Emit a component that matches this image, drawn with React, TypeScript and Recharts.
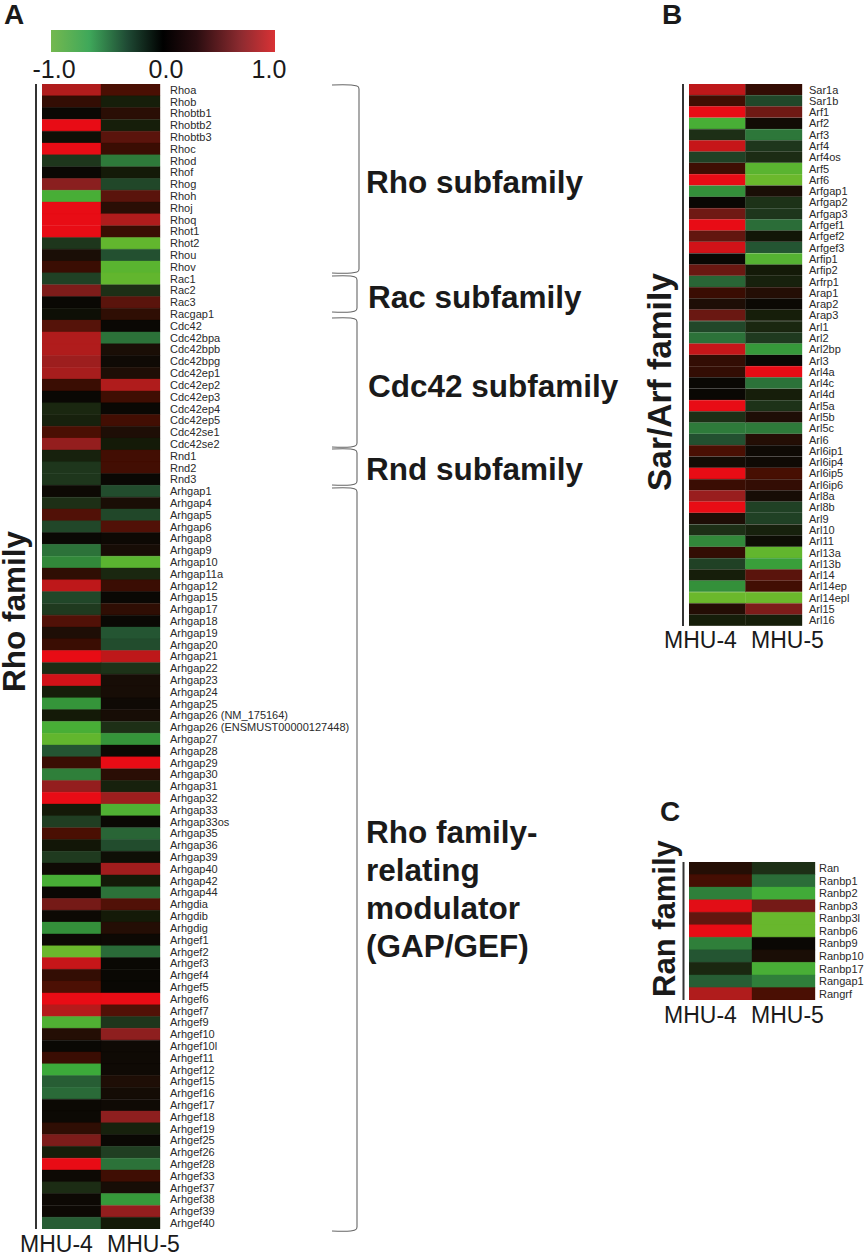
import React from "react";
import { BarChart, Bar, Cell, XAxis, YAxis } from "recharts";

const genesA = ["Rhoa","Rhob","Rhobtb1","Rhobtb2","Rhobtb3","Rhoc","Rhod","Rhof","Rhog","Rhoh","Rhoj","Rhoq","Rhot1","Rhot2","Rhou","Rhov","Rac1","Rac2","Rac3","Racgap1","Cdc42","Cdc42bpa","Cdc42bpb","Cdc42bpg","Cdc42ep1","Cdc42ep2","Cdc42ep3","Cdc42ep4","Cdc42ep5","Cdc42se1","Cdc42se2","Rnd1","Rnd2","Rnd3","Arhgap1","Arhgap4","Arhgap5","Arhgap6","Arhgap8","Arhgap9","Arhgap10","Arhgap11a","Arhgap12","Arhgap15","Arhgap17","Arhgap18","Arhgap19","Arhgap20","Arhgap21","Arhgap22","Arhgap23","Arhgap24","Arhgap25","Arhgap26 (NM_175164)","Arhgap26 (ENSMUST00000127448)","Arhgap27","Arhgap28","Arhgap29","Arhgap30","Arhgap31","Arhgap32","Arhgap33","Arhgap33os","Arhgap35","Arhgap36","Arhgap39","Arhgap40","Arhgap42","Arhgap44","Arhgdia","Arhgdib","Arhgdig","Arhgef1","Arhgef2","Arhgef3","Arhgef4","Arhgef5","Arhgef6","Arhgef7","Arhgef9","Arhgef10","Arhgef10l","Arhgef11","Arhgef12","Arhgef15","Arhgef16","Arhgef17","Arhgef18","Arhgef19","Arhgef25","Arhgef26","Arhgef28","Arhgef33","Arhgef37","Arhgef38","Arhgef39","Arhgef40"];
const mhu4A = [.8,.22,0,1,-.03,1,-.25,0,.6,-.85,1,1,1,-.25,.1,.25,-.32,.55,0,-.03,.4,.8,.8,.7,.75,.25,0,-.15,-.12,.35,.65,-.12,-.25,-.25,.02,-.2,.38,-.35,0,-.55,-.65,.2,.85,-.35,-.28,.38,.12,.25,1,-.18,.92,-.1,-.7,-.08,-.85,-.95,-.42,.25,-.62,.65,1,-.08,-.3,.35,-.06,-.28,.03,-.85,0,.52,.02,-.68,.02,-.98,.88,.22,.36,1,.82,-.88,.15,0,.25,-.8,-.45,-.5,.01,.01,.2,.55,-.1,1,.02,-.18,.02,.02,-.45];
const mhu5A = [.35,-.1,.18,-.1,.42,.25,-.6,-.08,-.35,.42,.18,.8,.25,-.95,-.4,-.92,-.95,-.2,.42,.2,0,-.55,.1,.03,.12,.8,.28,0,.3,.12,-.08,.3,.3,0,-.38,.1,-.35,.38,.02,.08,-.92,-.15,.25,0,.2,0,-.42,-.38,.85,-.22,.08,.08,.03,.08,-.2,-.7,.02,1,.18,-.12,.7,-.88,0,-.48,-.38,-.03,.72,-.08,-.55,.38,-.08,.15,.02,-.5,0,0,0,1,.38,-.25,.62,.03,.03,.03,.12,.06,.03,.62,-.12,0,-.3,-.55,.28,.08,-.72,.65,-.08];

const genesB = ["Sar1a","Sar1b","Arf1","Arf2","Arf3","Arf4","Arf4os","Arf5","Arf6","Arfgap1","Arfgap2","Arfgap3","Arfgef1","Arfgef2","Arfgef3","Arfip1","Arfip2","Arfrp1","Arap1","Arap2","Arap3","Arl1","Arl2","Arl2bp","Arl3","Arl4a","Arl4c","Arl4d","Arl5a","Arl5b","Arl5c","Arl6","Arl6ip1","Arl6ip4","Arl6ip5","Arl6ip6","Arl8a","Arl8b","Arl9","Arl10","Arl11","Arl13a","Arl13b","Arl14","Arl14ep","Arl14epl","Arl15","Arl16"];
const mhu4B = [.85,.3,1,-.85,-.2,.88,-.32,.28,1,-.68,0,.5,1,.45,.92,0,.48,-.48,.25,.12,.48,-.35,-.55,.88,.22,.22,0,0,1,-.2,-.6,-.4,.35,.06,1,.25,.68,1,.12,-.2,-.65,.22,-.32,-.1,-.68,-.98,.15,-.1];
const mhu5B = [.22,-.35,.5,.05,-.58,-.25,-.18,-.92,-.98,.1,-.22,-.25,-.52,-.06,-.42,-.9,-.08,-.12,.15,.01,-.1,-.15,-.28,-.72,0,1,-.55,-.1,-.22,.12,-.6,.15,.03,.03,.33,.22,.08,-.32,-.32,-.12,-.02,-.95,-.75,.42,.3,-.98,.55,-.1];

const genesC = ["Ran","Ranbp1","Ranbp2","Ranbp3","Ranbp3l","Ranbp6","Ranbp9","Ranbp10","Ranbp17","Rangap1","Rangrf"];
const mhu4C = [.15,.32,-.62,.98,.45,1,-.62,-.42,-.15,-.45,.8];
const mhu5C = [-.2,-.52,-.82,.52,-.97,-.97,0,.1,-.85,-.62,.35];

const scaleValues = [-1,-.92,-.8,-.7,-.6,-.5,-.4,-.28,-.18,-.08,0,.1,.18,.25,.35,.42,.6,.8,1];
const scaleColors = ["#70b92b","#5ab430","#3ca93a","#35953a","#2e7a3a","#2a6a38","#235030","#1f3a1f","#1c2c14","#141a08","#0a0804","#1a0e06","#2a0e05","#3a0d03","#4a0f03","#5a140c","#8a1f1f","#b01c1c","#e80c15"];

const hex = (c: string) => [1, 3, 5].map((i) => parseInt(c.slice(i, i + 2), 16));
function colorOf(v: number): string {
  let i = 0;
  while (i < scaleValues.length - 2 && v > scaleValues[i + 1]) i++;
  const t = Math.min(1, Math.max(0, (v - scaleValues[i]) / (scaleValues[i + 1] - scaleValues[i])));
  const a = hex(scaleColors[i]);
  const b = hex(scaleColors[i + 1]);
  return `rgb(${a.map((x, k) => Math.round(x + (b[k] - x) * t)).join(",")})`;
}

const FONT = "'Liberation Sans', Arial, sans-serif";

function Heat({ genes, a, b, left, top, heatW, heatH, axisW, labelGap, fontSize }: any) {
  const rows = genes.map((name: string, i: number) => ({ name, col4: 1, col5: 1, v4: a[i], v5: b[i] }));
  return (
    <div style={{ position: "absolute", left, top }}>
      <BarChart
        width={heatW + axisW}
        height={heatH}
        data={rows}
        layout="vertical"
        barCategoryGap={0}
        margin={{ top: 0, right: 0, bottom: 0, left: 0 }}
      >
        <XAxis type="number" domain={[0, 2]} hide />
        <YAxis
          type="category"
          dataKey="name"
          orientation="right"
          width={axisW}
          interval={0}
          axisLine={false}
          tickLine={false}
          tickSize={0}
          tickMargin={labelGap}
          tick={{ fontSize, fontFamily: FONT, fill: "#2a2a2a" }}
        />
        <Bar dataKey="col4" stackId="h" isAnimationActive={false}>
          {rows.map((r: any, i: number) => <Cell key={i} fill={colorOf(r.v4)} stroke={colorOf(r.v4)} strokeWidth={0.35} />)}
        </Bar>
        <Bar dataKey="col5" stackId="h" isAnimationActive={false}>
          {rows.map((r: any, i: number) => <Cell key={i} fill={colorOf(r.v5)} stroke={colorOf(r.v5)} strokeWidth={0.35} />)}
        </Bar>
      </BarChart>
    </div>
  );
}

const brace = (y0: number, y1: number, x: number) =>
  `M332 ${y0} C342 ${y0 - 0.5} 352 ${y0 - 0.5} ${x - 2} ${y0 + 1} Q${x} ${y0 + 1.5} ${x} ${y0 + 4} L${x} ${y1 - 4} Q${x} ${y1 - 1.5} ${x - 2} ${y1 - 1} C352 ${y1 + 0.5} 342 ${y1 + 0.5} 332 ${y1}`;

const braces: [number, number, number][] = [
  [85, 273, 359], [276, 312, 357], [318, 447, 357], [449, 485, 357], [488, 1231, 357],
];
const subLabels: [string, number, number][] = [
  ["Rho subfamily", 366, 193], ["Rac subfamily", 368, 308], ["Cdc42 subfamily", 368, 397], ["Rnd subfamily", 366, 480],
  ["Rho family-", 366, 843], ["relating", 366, 881], ["modulator", 366, 919], ["(GAP/GEF)", 366, 957],
];
const sampleLabels: [string, number, number][] = [
  ["MHU-4", 20, 1252], ["MHU-5", 107, 1252], ["MHU-4", 664, 648], ["MHU-5", 751, 648], ["MHU-4", 664, 1023], ["MHU-5", 751, 1023],
];
const familyLabels: [string, number, number, number][] = [
  ["Rho family", 25, 692, 31.5], ["Sar/Arf family", 671, 491, 33.5], ["Ran family", 675, 997, 31],
];
const panelLabels: [string, number, number][] = [["A", 4, 24], ["B", 662, 24], ["C", 660, 821]];
const sideRules: [number, number, number][] = [[36, 84, 1229], [683, 84, 626], [683.5, 862, 1000]];
const legendTicks: [string, number][] = [["-1.0", 54], ["0.0", 166], ["1.0", 269]];

export default function App() {
  return (
    <div style={{ position: "absolute", left: 0, top: 0, width: 865, height: 1256, background: "#fff", overflow: "hidden" }}>
      <Heat genes={genesA} a={mhu4A} b={mhu5A} left={42} top={84} heatW={118} heatH={1145} axisW={300} labelGap={10} fontSize={11} />
      <Heat genes={genesB} a={mhu4B} b={mhu5B} left={689} top={84} heatW={113} heatH={542} axisW={63} labelGap={7} fontSize={11} />
      <Heat genes={genesC} a={mhu4C} b={mhu5C} left={689} top={862} heatW={126} heatH={138} axisW={50} labelGap={4} fontSize={11} />
      <svg width={865} height={1256} style={{ position: "absolute", left: 0, top: 0, pointerEvents: "none" }} fontFamily={FONT}>
        <defs>
          <linearGradient id="legendScale">
            <stop offset="0" stopColor="#74b84f" />
            <stop offset="0.17" stopColor="#3fa85a" />
            <stop offset="0.34" stopColor="#1f4a34" />
            <stop offset="0.5" stopColor="#000" />
            <stop offset="0.65" stopColor="#2a0d10" />
            <stop offset="0.85" stopColor="#8e2b30" />
            <stop offset="1" stopColor="#d93235" />
          </linearGradient>
        </defs>
        <rect x={51} y={30} width={224} height={22} fill="url(#legendScale)" />
        {legendTicks.map(([t, x]) => (
          <text key={t} x={x} y={78} textAnchor="middle" fontSize={25} fill="#1a1a1a">{t}</text>
        ))}
        {sideRules.map(([x, y0, y1]) => (
          <line key={x + "-" + y0} x1={x} x2={x} y1={y0} y2={y1} stroke="#333" strokeWidth={2} />
        ))}
        {braces.map(([y0, y1, x]) => (
          <path key={y0} d={brace(y0, y1, x)} fill="none" stroke="#666" strokeWidth={1.1} />
        ))}
        {subLabels.map(([t, x, y]) => (
          <text key={t} x={x} y={y} fontSize={31.5} fontWeight={700} fill="#1a1a1a">{t}</text>
        ))}
        {sampleLabels.map(([t, x, y]) => (
          <text key={t + x + y} x={x} y={y} fontSize={23} fill="#1a1a1a">{t}</text>
        ))}
        {familyLabels.map(([t, x, y, s]) => (
          <text key={t} transform={`translate(${x},${y}) rotate(-90)`} fontSize={s} fontWeight={700} fill="#1a1a1a">{t}</text>
        ))}
        {panelLabels.map(([t, x, y]) => (
          <text key={t} x={x} y={y} fontSize={28} fontWeight={700} fill="#1a1a1a">{t}</text>
        ))}
      </svg>
    </div>
  );
}
